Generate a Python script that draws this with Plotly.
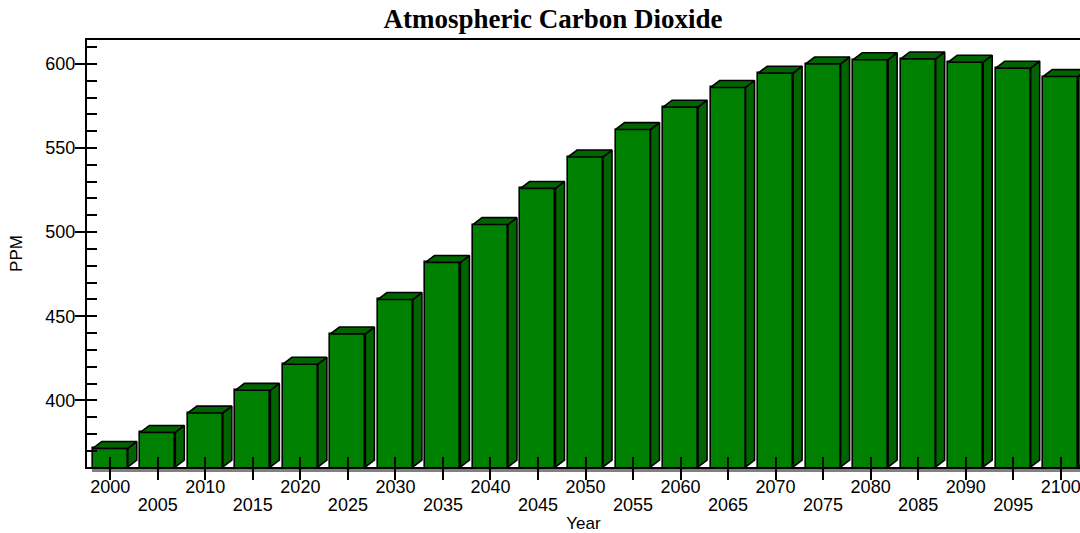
import plotly.graph_objects as go

# ---- data ----
years = list(range(2000, 2101, 5))
ppm = [371.5, 381.0, 392.5, 406.0, 421.5, 439.5, 460.0, 482.0, 504.5, 526.0, 544.7,
       561.0, 574.3, 586.0, 594.5, 600.0, 602.5, 603.0, 601.0, 597.5, 592.5]
y_ticks = [400, 450, 500, 550, 600]
y_minor = list(range(370, 611, 10))
title_text = "Atmospheric Carbon Dioxide"
x_title = "Year"
y_title = "PPM"

# ---- style ----
FRONT = "#008000"
DARK = "#006400"
W = 3.68      # bar front width (years)
DX = 0.95     # depth offset (years)
DY = 4.1      # depth offset (ppm)
Y_RANGE = [360.4, 614.2]
X_RANGE = [1997.55, 2102.03]
BASE = Y_RANGE[0]
FONT = "Liberation Sans, Arial, sans-serif"
TICKFONT = dict(family=FONT, size=18, color="black")

side_x, side_y, top_x, top_y = [], [], [], []
for x, v in zip(years, ppm):
    l, r = x - W / 2, x + W / 2
    side_x += [r, r, r + DX, r + DX, r, None]
    side_y += [BASE, v, v + DY, BASE + DY, BASE, None]
    top_x += [l, r, r + DX, l + DX, l, None]
    top_y += [v, v, v + DY, v + DY, v, None]

fig = go.Figure()
fig.add_trace(go.Bar(x=years, y=ppm, width=W,
                     marker=dict(color=FRONT, line=dict(color="black", width=1.6)),
                     showlegend=False, hoverinfo="x+y"))
fig.add_trace(go.Scatter(x=side_x, y=side_y, mode="lines", fill="toself",
                         fillcolor=DARK, line=dict(color="black", width=1.6),
                         showlegend=False, hoverinfo="skip"))
fig.add_trace(go.Scatter(x=top_x, y=top_y, mode="lines", fill="toself",
                         fillcolor=DARK, line=dict(color="black", width=1.6),
                         showlegend=False, hoverinfo="skip"))
# helper (empty) traces so the overlay axes render
fig.add_trace(go.Scatter(x=[None], y=[None], xaxis="x2", yaxis="y",
                         showlegend=False, hoverinfo="skip"))
fig.add_trace(go.Scatter(x=[None], y=[None], xaxis="x", yaxis="y2",
                         showlegend=False, hoverinfo="skip"))

fig.update_layout(
    width=1080, height=533,
    margin=dict(l=87, r=0, t=40, b=66, autoexpand=False),
    paper_bgcolor="white", plot_bgcolor="white",
    bargap=0,
    title=dict(text=title_text, xref="container", yref="container",
               x=0.512, xanchor="center", y=0.966, yanchor="middle",
               automargin=False,
               font=dict(family="Liberation Serif, Times New Roman, serif",
                         size=27, color="black", weight="bold")),
    # inside ticks + upper row of labels
    xaxis=dict(range=X_RANGE, tickmode="array", tickvals=years,
               ticktext=[str(y) if y % 10 == 0 else "" for y in years],
               ticks="inside", ticklen=10, tickwidth=1.5, tickcolor="black",
               ticklabelstandoff=2, ticklabeloverflow="allow", automargin=False,
               showline=True, linewidth=2, linecolor="black", mirror=True,
               showgrid=False, zeroline=False, tickfont=TICKFONT),
    # outside ticks + lower row of labels + title
    xaxis2=dict(range=X_RANGE, overlaying="x", anchor="y", side="bottom",
                tickmode="array", tickvals=years,
                ticktext=[str(y) if y % 10 == 5 else "" for y in years],
                ticks="outside", ticklen=12, tickwidth=1.5, tickcolor="black",
                ticklabelstandoff=9, ticklabeloverflow="allow", automargin=False,
                showline=False, showgrid=False, zeroline=False, tickfont=TICKFONT,
                title=dict(text=x_title, standoff=4,
                           font=dict(family=FONT, size=17, color="black"))),
    # inside minor ticks + labels
    yaxis=dict(range=Y_RANGE, tickmode="array", tickvals=y_minor,
               ticktext=[str(v) if v % 50 == 0 else "" for v in y_minor],
               ticks="inside", ticklen=10, tickwidth=1.5, tickcolor="black",
               ticklabelstandoff=6, automargin=False,
               showline=True, linewidth=2, linecolor="black",
               showgrid=False, zeroline=False, tickfont=TICKFONT,
               title=dict(text=y_title, standoff=18,
                          font=dict(family=FONT, size=17, color="black"))),
    # outside major ticks
    yaxis2=dict(range=Y_RANGE, overlaying="y", anchor="x", side="left",
                tickmode="array", tickvals=y_ticks,
                ticks="outside", ticklen=11, tickwidth=1.5, tickcolor="black",
                showticklabels=False, automargin=False,
                showline=False, showgrid=False, zeroline=False),
)

# floor shadow band under the baseline
fig.add_shape(type="rect", xref="paper", yref="paper",
              x0=0.005, x1=1.0, y0=-0.0115, y1=-0.002,
              fillcolor="#808080", line=dict(width=0), layer="below")

fig.write_html("out.html",
               config={"displayModeBar": False},
               post_script="document.body.style.margin='0px';"
                           "document.body.style.overflow='hidden';")
